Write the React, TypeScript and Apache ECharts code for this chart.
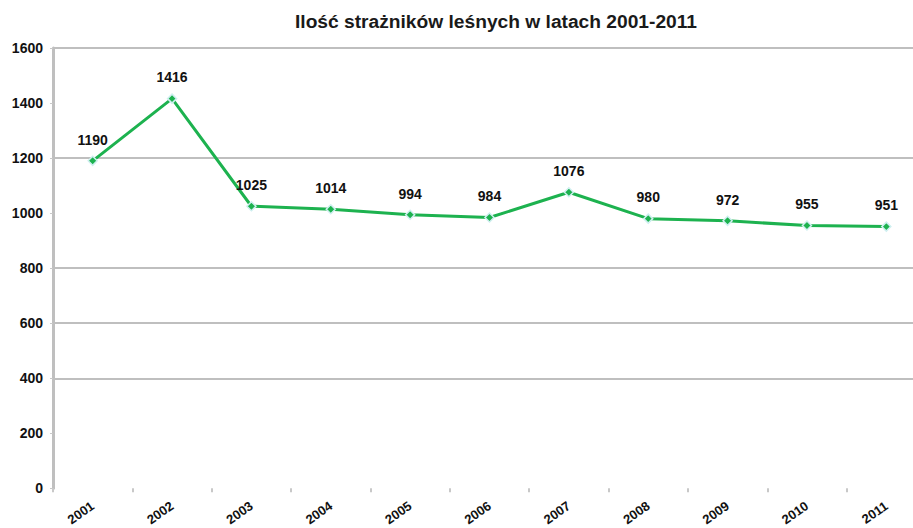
import React, { useEffect, useRef } from "react";
import * as echarts from "echarts";

const years = ["2001", "2002", "2003", "2004", "2005", "2006", "2007", "2008", "2009", "2010", "2011"];
const guards = [1190, 1416, 1025, 1014, 994, 984, 1076, 980, 972, 955, 951];
const gridLineValues = [1600, 1200, 800, 600, 400];
const title = "Ilość strażników leśnych w latach 2001-2011";

export default function App() {
  const ref = useRef<HTMLDivElement>(null);
  useEffect(() => {
    if (!ref.current) return;
    const chart = echarts.init(ref.current, null, { renderer: "svg" });
    const font = "'Liberation Sans', Arial, sans-serif";
    chart.setOption({
      animation: false,
      backgroundColor: "#ffffff",
      title: {
        text: title,
        left: 491,
        textAlign: "center",
        top: 7,
        textStyle: { fontFamily: font, fontSize: 19.2, fontWeight: "bold", color: "#1a1a1a" },
      },
      grid: { left: 53, top: 48, height: 444, width: 873, containLabel: false },
      xAxis: {
        type: "category",
        data: years,
        boundaryGap: true,
        axisLine: { show: false },
        axisTick: { show: true, length: 4, lineStyle: { color: "#c8c8c8", width: 2 } },
        axisLabel: {
          rotate: 35,
          margin: 16,
          fontFamily: font,
          fontSize: 13,
          fontWeight: "bold",
          color: "#111",
        },
        splitLine: { show: false },
      },
      yAxis: {
        type: "value",
        min: 0,
        max: 1600,
        interval: 200,
        axisLine: { show: true, lineStyle: { color: "#bfbfbf", width: 3 } },
        axisTick: { show: true, length: 3, lineStyle: { color: "#c8c8c8" } },
        axisLabel: {
          fontFamily: font,
          fontSize: 14,
          fontWeight: "bold",
          color: "#111",
          margin: 10,
          formatter: (v: number) => String(v),
        },
        splitLine: { show: false },
      },
      series: [
        {
          type: "line",
          data: guards,
          symbol: "diamond",
          symbolSize: 9,
          lineStyle: { color: "#1db24f", width: 3 },
          itemStyle: { color: "#1db24f", borderColor: "#cfeff0", borderWidth: 1.5 },
          label: {
            show: true,
            position: "top",
            distance: 9,
            fontFamily: font,
            fontSize: 14,
            fontWeight: "bold",
            color: "#111",
          },
          markLine: {
            silent: true,
            symbol: "none",
            label: { show: false },
            lineStyle: { color: "#bfbfbf", width: 2, type: "solid" },
            data: gridLineValues.map((v) => ({ yAxis: v })),
            z: 1,
          },
          z: 3,
        },
      ],
    });
    return () => chart.dispose();
  }, []);
  return (
    <div style={{ position: "fixed", left: 0, top: 0, width: 913, height: 528, overflow: "hidden", background: "#fff" }}>
      <div ref={ref} style={{ width: 930, height: 528 }} />
    </div>
  );
}
